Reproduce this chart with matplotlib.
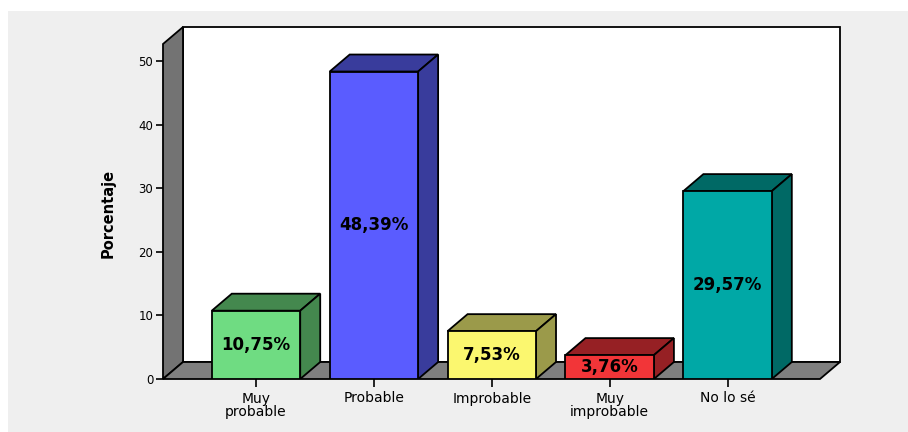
import matplotlib
matplotlib.use("Agg")
import matplotlib.pyplot as plt
from matplotlib.patches import Polygon, Rectangle

categories = ["Muy\nprobable", "Probable", "Improbable", "Muy\nimprobable", "No lo sé"]
values = [10.75, 48.39, 7.53, 3.76, 29.57]
value_labels = ["10,75%", "48,39%", "7,53%", "3,76%", "29,57%"]
front_colors = ["#6fdc82", "#5a5cff", "#fbf76f", "#f23538", "#00a8a6"]
shade_colors = ["#44884e", "#393c9c", "#9b9a4a", "#962024", "#006965"]
yticks = [0, 10, 20, 30, 40, 50]

W, H = 908, 432
fig = plt.figure(figsize=(W / 100, H / 100), dpi=100, facecolor="white")
fig.patches.append(Rectangle((8 / W, 0), 1, 1 - 11 / H, transform=fig.transFigure,
                             facecolor="#efefef", edgecolor="none", zorder=-10))

# plot box in pixels: front-left edge at x=163, zero line at y=379, back top at y=27
px_left, px_right, px_bottom, px_top = 163, 840, 379, 27
ax = fig.add_axes([px_left / W, 1 - px_bottom / H,
                   (px_right - px_left) / W, (px_bottom - px_top) / H])
ax.set_facecolor("none")

ppx = 117.9   # pixels per category
ppy = 6.354   # pixels per percent
x0 = (px_left - 256) / ppx
x1 = x0 + (px_right - px_left) / ppx
ytop = (px_bottom - px_top) / ppy
ax.set_xlim(x0, x1)
ax.set_ylim(0, ytop)

DX = 20 / ppx
DY = 17 / ppy
xr = x1 - DX          # front right edge of floor
wall_front_top = ytop - DY

lw = 1.3
# back wall
ax.add_patch(Polygon([(x0 + DX, DY), (x1, DY), (x1, ytop), (x0 + DX, ytop)], clip_on=False,
                     closed=True, facecolor="white", edgecolor="black", lw=lw, zorder=1))
# left wall
ax.add_patch(Polygon([(x0, 0), (x0, wall_front_top), (x0 + DX, ytop), (x0 + DX, DY)],
                     closed=True, facecolor="#737373", edgecolor="black", lw=lw, zorder=2,
                     clip_on=False))
# floor
ax.add_patch(Polygon([(x0, 0), (xr, 0), (x1, DY), (x0 + DX, DY)], clip_on=False,
                     closed=True, facecolor="#7f7f7f", edgecolor="black", lw=lw, zorder=2))

bw = 0.75
for i, (v, fc, sc, lab) in enumerate(zip(values, front_colors, shade_colors, value_labels)):
    l, r = i - bw / 2, i + bw / 2
    z = 3 + i
    ax.add_patch(Polygon([(l, v), (r, v), (r + DX, v + DY), (l + DX, v + DY)],
                         closed=True, facecolor=sc, edgecolor="black", lw=lw, zorder=z))
    ax.add_patch(Polygon([(r, 0), (r + DX, DY), (r + DX, v + DY), (r, v)],
                         closed=True, facecolor=sc, edgecolor="black", lw=lw, zorder=z))
    ax.add_patch(Rectangle((l, 0), bw, v, facecolor=fc, edgecolor="black", lw=lw, zorder=z))
    ax.text(i, v / 2, lab, ha="center", va="center", fontsize=12, fontweight="bold",
            color="black", zorder=10)

for s in ax.spines.values():
    s.set_visible(False)
ax.set_yticks(yticks)
ax.set_yticklabels([str(t) for t in yticks], fontsize=8.5)
ax.set_xticks(range(len(categories)))
ax.set_xticklabels(categories, fontsize=10, linespacing=0.95)
ax.tick_params(axis="both", direction="out", length=5, width=1.2, color="black", pad=2)
ax.tick_params(axis="x", length=6, pad=3)

fig.text(108 / W, 1 - 213 / H, "Porcentaje", rotation=90, ha="center", va="center",
         fontsize=10.5, fontweight="bold")

fig.savefig("out.png", dpi=100, facecolor="white")
